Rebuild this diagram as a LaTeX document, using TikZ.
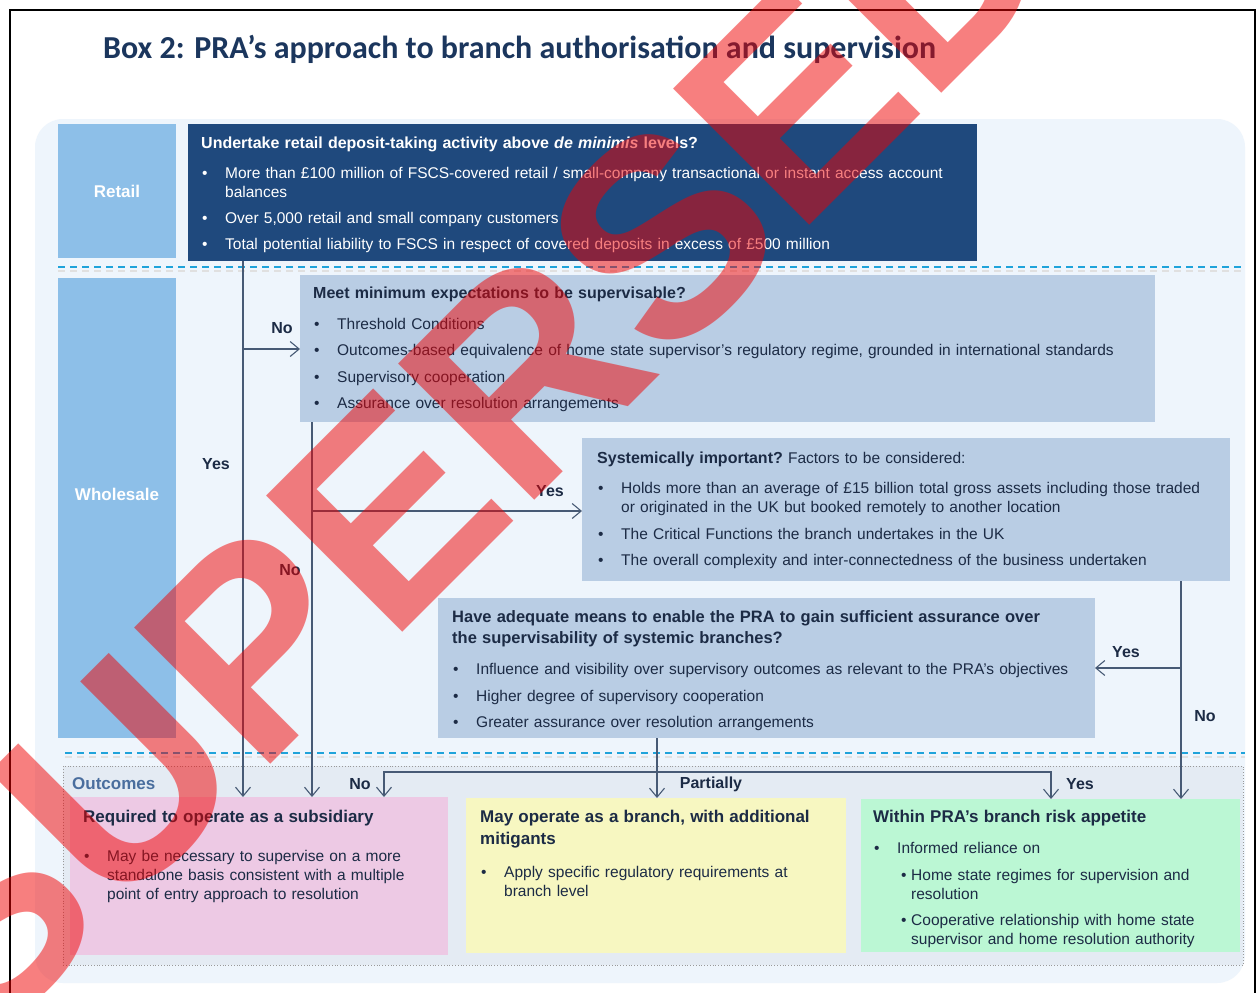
\documentclass[tikz,border=0pt]{standalone}
\usepackage{fontspec}
\setmainfont{Liberation Sans}[WordSpace=1.2]
\newfontfamily\titlefont{Carlito}
\usetikzlibrary{arrows.meta}
\definecolor{panel}{HTML}{EEF5FC}
\definecolor{labelblue}{HTML}{8DBFE8}
\definecolor{darkq}{HTML}{1F497D}
\definecolor{lightq}{HTML}{B9CDE4}
\definecolor{outbg}{HTML}{E4EBF3}
\definecolor{pinkbox}{HTML}{EDC9E4}
\definecolor{yellowbox}{HTML}{F7F7C1}
\definecolor{greenbox}{HTML}{BBF7D4}
\definecolor{navy}{HTML}{1B365D}
\definecolor{txtdark}{HTML}{1C2B45}
\definecolor{conncol}{HTML}{475A75}
\definecolor{sepcol}{HTML}{1FA3DA}
\definecolor{outlbl}{HTML}{4A6E9E}
\definecolor{wmred}{RGB}{240,0,0}
\setlength{\parindent}{0pt}
\newlength{\bind}\setlength{\bind}{24pt}
\newcommand{\bitem}[2][7pt]{\par\vspace{#1}\hangindent=\bind\hangafter=1\noindent\makebox[\bind][l]{\hspace{1pt}\textbullet}#2}
\newcommand{\sbitem}[2][7pt]{\par\vspace{#1}\hangindent=38pt\hangafter=1\noindent\hspace*{28pt}\makebox[10pt][l]{\textbullet}#2}
\begin{document}
\begin{tikzpicture}[x=1pt,y=-1pt,
  box/.style={anchor=north west, inner sep=0pt, outer sep=0pt, draw=none},
  txt/.style={anchor=north west, inner sep=0pt, align=left, font=\fontsize{15.5}{19}\selectfont, text=txtdark},
  lbl/.style={inner sep=0pt, font=\bfseries\fontsize{16}{19}\selectfont, text=txtdark},
  side/.style={font=\bfseries\fontsize{17}{20}\selectfont, text=white},
  conn/.style={draw=conncol, line width=1.1pt},
  arr/.style={conn, -{Straight Barb[length=9pt,width=15pt]}},
  sep/.style={draw=sepcol, line width=2pt, dash pattern=on 7pt off 5pt},
  sepshadow/.style={draw=black!12, line width=2pt, dash pattern=on 7pt off 5pt}
]
\useasboundingbox (0,0) rectangle (1258,993);
\fill[white] (0,0) rectangle (1258,993);
% frame
\draw[black, line width=1.2pt] (10,993) -- (10,10) -- (1255,10) -- (1255,993);
% title
\node[anchor=base west, inner sep=0pt, font=\titlefont\bfseries\fontsize{32}{36}\selectfont, text=navy] (title) at (103,58) {Box 2: PRA’s approach to branch authorisation and supervision};
% panel
\fill[panel, rounded corners=28pt] (35,119) rectangle (1245,983);
% side labels
\node[box, fill=labelblue, minimum width=118pt, minimum height=134pt] (retaillbl) at (58,124) {};
\node[side] at (retaillbl.center) {Retail};
\node[box, fill=labelblue, minimum width=118pt, minimum height=460pt] (wholelbl) at (58,278) {};
\node[side] at (117,494) {Wholesale};
% separators
\draw[sepshadow] (58,271) -- (1245,271);
\draw[sep] (58,267) -- (1245,267);
\draw[sepshadow] (65,757) -- (1245,757);
\draw[sep] (65,753) -- (1245,753);
% question boxes
\node[box, fill=darkq, minimum width=789pt, minimum height=137pt] (retailq) at (188,124) {};
\node[box, fill=lightq, minimum width=855pt, minimum height=147pt] (meet) at (300,275) {};
\node[box, fill=lightq, minimum width=648pt, minimum height=143pt] (sys) at (582,438) {};
\node[box, fill=lightq, minimum width=657pt, minimum height=140pt] (have) at (438,598) {};
% outcomes container
\node[box, fill=outbg, draw=black!40, dotted, line width=0.8pt, minimum width=1180pt, minimum height=199pt] (outc) at (63,766) {};
\node[anchor=west, inner sep=0pt, font=\bfseries\fontsize{17}{20}\selectfont, text=outlbl] (outlabel) at (72,784) {Outcomes};
\node[box, fill=pinkbox, minimum width=378pt, minimum height=158pt] (pink) at (70,797) {};
\node[box, fill=yellowbox, minimum width=380pt, minimum height=155pt] (yellow) at (466,798) {};
\node[box, fill=greenbox, minimum width=379pt, minimum height=153pt] (green) at (861,799) {};
% texts
\node[txt, text=white, text width=770pt] (retailtxt) at (201,137) {%
{\bfseries\fontsize{16}{19}\selectfont Undertake retail deposit-taking activity above \textit{de minimis} levels?\par}
\bitem[10.5pt]{More than £100 million of FSCS-covered retail / small-company transactional or instant access account\newline balances}
\bitem{Over 5,000 retail and small company customers}
\bitem{Total potential liability to FSCS in respect of covered deposits in excess of £500 million}\par};
\node[txt, text width=845pt] (meettxt) at (313,287) {%
{\bfseries\fontsize{16}{19}\selectfont Meet minimum expectations to be supervisable?\par}
\bitem[11.5pt]{Threshold Conditions}
\bitem[7.5pt]{Outcomes-based equivalence of home state supervisor’s regulatory regime, grounded in international standards}
\bitem[8pt]{Supervisory cooperation}
\bitem[7pt]{Assurance over resolution arrangements}\par};
\node[txt, text width=630pt] (systxt) at (597,452) {%
{\bfseries\fontsize{16}{19}\selectfont Systemically important?}\ Factors to be considered:\par
\bitem[11pt]{Holds more than an average of £15 billion total gross assets including those traded\newline or originated in the UK but booked remotely to another location}
\bitem[8pt]{The Critical Functions the branch undertakes in the UK}
\bitem[7pt]{The overall complexity and inter-connectedness of the business undertaken}\par};
\node[txt, text width=640pt] (havetxt) at (452,610) {%
{\bfseries\fontsize{16.5}{21}\selectfont Have adequate means to enable the PRA to gain sufficient assurance over\newline the supervisability of systemic branches?\par}
\bitem[12pt]{Influence and visibility over supervisory outcomes as relevant to the PRA’s objectives}
\bitem[8pt]{Higher degree of supervisory cooperation}
\bitem[7pt]{Greater assurance over resolution arrangements}\par};
\node[txt, text width=360pt] (pinktxt) at (83,810) {%
{\bfseries\fontsize{17}{22}\selectfont Required to operate as a subsidiary\par}
\bitem[19.5pt]{May be necessary to supervise on a more\newline standalone basis consistent with a multiple\newline point of entry approach to resolution}\par};
\node[txt, text width=360pt] (yellowtxt) at (480,810) {%
{\bfseries\fontsize{17}{22}\selectfont May operate as a branch, with additional\newline mitigants\par}
\bitem[13.5pt]{Apply specific regulatory requirements at\newline branch level}\par};
\node[txt, text width=360pt] (greentxt) at (873,810) {%
{\bfseries\fontsize{17}{22}\selectfont Within PRA’s branch risk appetite\par}
\bitem[12pt]{Informed reliance on}
\sbitem[8pt]{Home state regimes for supervision and\newline resolution}
\sbitem[7pt]{Cooperative relationship with home state\newline supervisor and home resolution authority}\par};
% connectors
\coordinate (j1) at (243,349);
\coordinate (j2) at (312,511);
\coordinate (j3) at (1181,668);
\coordinate (j4m) at (657,772);
\coordinate (j4l) at (384,772);
\coordinate (j4r) at (1051,772);
\draw[arr] (j1 |- retailq.south) -- (j1 |- pink.north);
\draw[arr] (j1) -- (j1 -| meet.west);
\draw[arr] (j2 |- meet.south) -- (j2 |- pink.north);
\draw[arr] (j2) -- (j2 -| sys.west);
\draw[arr] (j3 |- sys.south) -- (j3 |- green.north);
\draw[arr] (j3) -- (j3 -| have.east);
\draw[arr] (j4m |- have.south) -- (j4m |- yellow.north);
\draw[arr] (j4m) -- (j4l) -- (j4l |- pink.north);
\draw[arr] (j4m) -- (j4r) -- (j4r |- green.north);
% connector labels
\node[lbl] (l1) at (282,328) {No};
\node[lbl] (l2) at (216,464) {Yes};
\node[lbl] (l3) at (550,491) {Yes};
\node[lbl] (l4) at (290,570) {No};
\node[lbl] (l5) at (1126,652) {Yes};
\node[lbl] (l6) at (1205,716) {No};
\node[lbl] (l7) at (360,784) {No};
\node[lbl] (l8) at (711,784) {Partially};
\node[lbl] (l9) at (1080,784) {Yes};
% watermark
\begin{scope}
\clip (0,0) rectangle (1258,993);
\node[anchor=base west, inner sep=0pt, rotate=45, text=wmred, text opacity=0.5, font=\bfseries\fontsize{280}{300}\selectfont] (watermark) at (-18,1053) {SUPERSEDED};
\end{scope}
\end{tikzpicture}
\end{document}
